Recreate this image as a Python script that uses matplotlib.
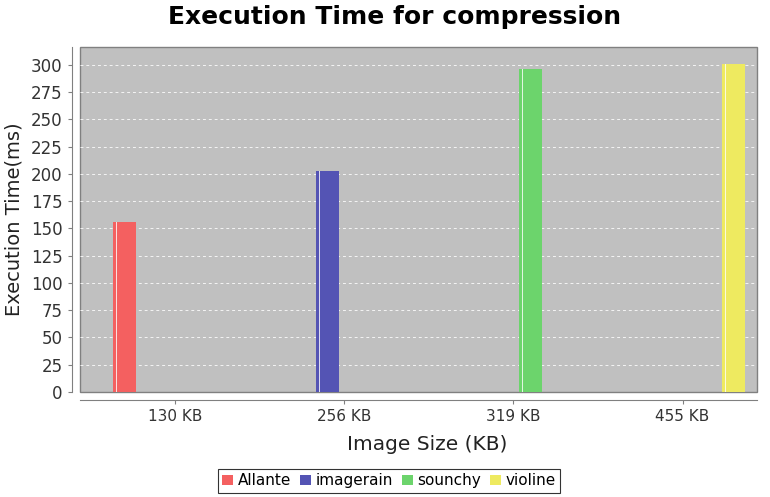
import matplotlib
matplotlib.use("Agg")
import matplotlib.pyplot as plt
import numpy as np

categories = ["130 KB", "256 KB", "319 KB", "455 KB"]
series = ["Allante", "imagerain", "sounchy", "violine"]
values = [156, 203, 296, 301]
colors = ["#f46060", "#5454b4", "#6cd46c", "#eeea60"]
yticks = list(range(0, 301, 25))

fig = plt.figure(figsize=(7.7, 4.97), dpi=100)
ax = fig.add_axes([80/770, 1-392/497, (757-80)/770, (392-47)/497])
ax.set_facecolor("#c0c0c0")
ax.patch.set_edgecolor("#808080")
ax.patch.set_linewidth(1.0)

x = np.arange(len(categories))
offsets = [-0.3, -0.1, 0.1, 0.3]
bw = 0.136
handles = []
for i, (s, v, c) in enumerate(zip(series, values, colors)):
    h = ax.bar(x[i] + offsets[i], v, width=bw, color=c, zorder=3, label=s)
    handles.append(h)
    ax.bar(x[i] + offsets[i] - bw/2 + 0.02, v, width=0.008, color="white", alpha=0.8, zorder=4, linewidth=0)

ax.set_xlim(-0.562, 3.44)
ax.set_ylim(0, 316.5)
ax.set_yticks(yticks)
ax.set_xticks(x)
ax.set_xticklabels(categories)
ax.yaxis.grid(True, color="#f4f4f4", linestyle=(0, (3, 3)), linewidth=0.7, zorder=0)
ax.set_axisbelow(True)

for sp in ["top", "right"]:
    ax.spines[sp].set_visible(False)
for sp in ["left", "bottom"]:
    ax.spines[sp].set_position(("outward", 6))
    ax.spines[sp].set_color("#808080")
ax.tick_params(axis="both", colors="#808080", labelcolor="#333333", length=3)
ax.tick_params(axis="y", labelsize=12)
ax.tick_params(axis="x", labelsize=11)

ax.set_ylabel("Execution Time(ms)", fontsize=14, color="#222222", labelpad=5)
ax.set_xlabel("Image Size (KB)", fontsize=14.5, color="#222222", labelpad=8)
ax.xaxis.set_label_coords(0.513, -0.125)
fig.suptitle("Execution Time for compression", fontsize=18, fontweight="bold", y=0.99, x=0.512)

leg = fig.legend(handles=handles, labels=series, loc="lower center", bbox_to_anchor=(0.505, 0.008),
                 ncol=4, frameon=True, fancybox=False, fontsize=11, handlelength=0.7, handleheight=0.7,
                 handletextpad=0.3, columnspacing=0.6, borderpad=0.3, borderaxespad=0)
leg.get_frame().set_edgecolor("black")
leg.get_frame().set_linewidth(0.8)

fig.savefig("out.png", dpi=100)
